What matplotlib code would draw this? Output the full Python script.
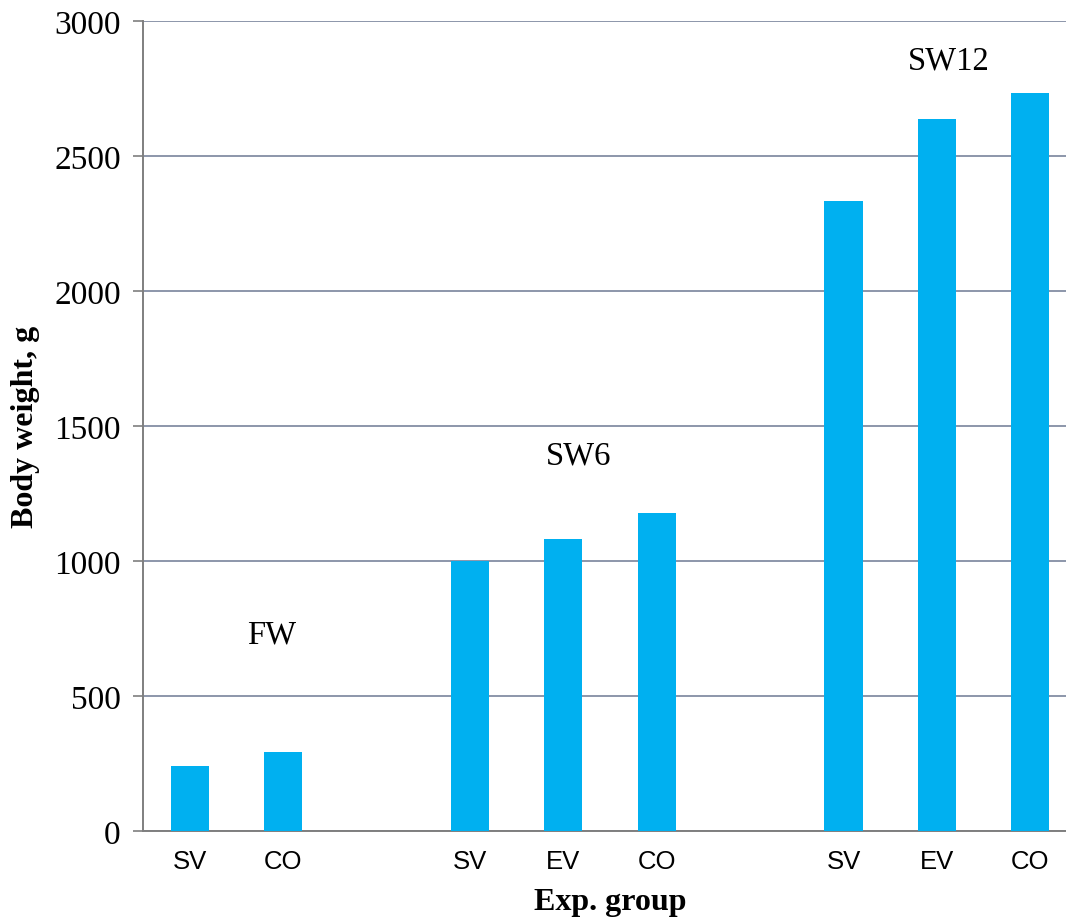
import matplotlib
matplotlib.use("Agg")
import matplotlib.pyplot as plt

categories = ["SV", "CO", "", "SV", "EV", "CO", "", "SV", "EV", "CO"]
values = [241, 293, None, 1000, 1081, 1178, None, 2333, 2637, 2733]
group_labels = ["FW", "SW6", "SW12"]
group_label_x = [0.88, 4.16, 8.13]
group_label_y = [730, 1390, 2855]
yticks = [0, 500, 1000, 1500, 2000, 2500, 3000]

W, H = 1066, 920
fig = plt.figure(figsize=(W / 100, H / 100), dpi=100)
ax = fig.add_axes([143 / W, 1 - 832 / H, (1077 - 143) / W, (832 - 22) / H])

xs = [i for i, v in enumerate(values) if v is not None]
vs = [v for v in values if v is not None]
ax.bar(xs, vs, width=0.41, color="#00B0F0", zorder=3)

ax.set_xlim(-0.5, len(categories) - 0.5)
ax.set_ylim(0, 3000)
ax.set_yticks(yticks)
ax.set_yticklabels([str(t) for t in yticks], fontfamily="Liberation Serif", fontsize=24)
ax.set_xticks(range(len(categories)))
ax.set_xticklabels(categories, fontfamily="Liberation Sans", fontsize=18.5)
ax.tick_params(axis="x", length=0, pad=13)
ax.tick_params(axis="y", length=7, width=1.2, color="#7f7f7f", direction="out", pad=9)

ax.grid(axis="y", color="#8C96AA", linewidth=1.4, zorder=0)
for s in ["top", "right"]:
    ax.spines[s].set_visible(False)
for s in ["left", "bottom"]:
    ax.spines[s].set_color("#7f7f7f")
    ax.spines[s].set_linewidth(1.4)

for lab, x, y in zip(group_labels, group_label_x, group_label_y):
    ax.text(x, y, lab, ha="center", va="center", fontfamily="Liberation Serif", fontsize=23.5)

ax.set_ylabel("Body weight, g", fontfamily="Liberation Serif", fontweight="bold", fontsize=23, labelpad=10)
ax.set_xlabel("Exp. group", fontfamily="Liberation Serif", fontweight="bold", fontsize=23, labelpad=10)

fig.savefig("out.png", dpi=100)
